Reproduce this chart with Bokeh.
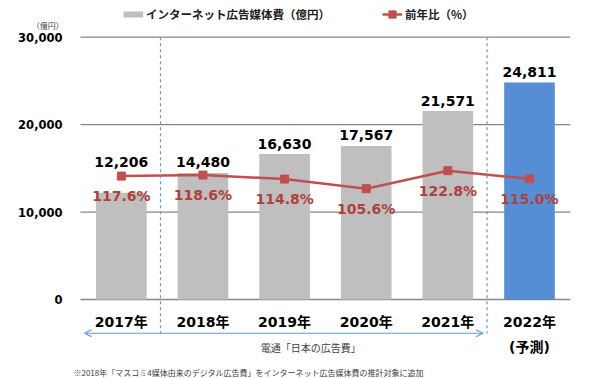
from bokeh.plotting import figure
from bokeh.models import (Range1d, Label, Arrow, OpenHead, Legend, LegendItem, ColumnDataSource)
from bokeh.core.properties import value
from bokeh.embed import file_html
from bokeh.resources import INLINE

# ---- data ----
years = ["2017年", "2018年", "2019年", "2020年", "2021年", "2022年"]
ad_spend = [12206, 14480, 16630, 17567, 21571, 24811]          # 億円
yoy_pct = [117.6, 118.6, 114.8, 105.6, 122.8, 115.0]           # %
y_ticks = [0, 10000, 20000, 30000]
bar_name = "インターネット広告媒体費（億円）"
line_name = "前年比（%）"
unit_text = "（億円）"
forecast_text = "(予測)"
source_text = "電通「日本の広告費」"
note_text = "※2018年「マスコミ4媒体由来のデジタル広告費」をインターネット広告媒体費の推計対象に追加"

# ---- styles ----
GRAY = "#BFBFBF"
BLUE = "#558ED5"
RED = "#C0504D"
PCT_TEXT = "#B0403C"
GUIDE = "#5B9BD5"
GRID = "#878787"
NUM_FONT = "DejaVu Sans, Noto Sans CJK JP"
JP_FONT = "Noto Sans CJK JP"
bar_colors = [GRAY] * 5 + [BLUE]
bar_label_offsets = [-31, -11, -10, -11, -10, -11]

W, H = 600, 378
xpos = [i + 0.5 for i in range(len(years))]

source = ColumnDataSource(dict(
    x=xpos, year=years, spend=ad_spend, pct=yoy_pct, color=bar_colors,
    spend_text=[f"{v:,}" for v in ad_spend],
    pct_text=[f"{v:.1f}%" for v in yoy_pct],
    off=bar_label_offsets,
))
tick_src = ColumnDataSource(dict(
    y=y_ticks, x0=[0] * len(y_ticks), x1=[len(years)] * len(y_ticks),
    text=[f"{t:,}" for t in y_ticks],
))

# frame covers the whole canvas; the value axis 0..30000 spans pixel rows 37..299
p = figure(width=W, height=H,
           x_range=Range1d(-0.98, 6.37), y_range=Range1d(-9038, 34198),
           x_axis_location=None, y_axis_location=None,
           output_backend="svg", toolbar_location=None,
           min_border=0)
p.extra_y_ranges = {"pct": Range1d(-75.3, 285.0)}
p.outline_line_color = None
p.background_fill_color = "white"
p.border_fill_color = "white"
p.grid.visible = False

# grid lines and value tick labels
p.segment(x0="x0", y0="y", x1="x1", y1="y", line_color=GRID, line_width=1.3, source=tick_src)
p.text(x="x0", y="y", text="text", x_offset=-18, source=tick_src,
       text_align="right", text_baseline="middle", text_font=value("DejaVu Sans"),
       text_font_style="bold", text_font_size="11.5px", text_color="black")

# bars, line, markers
p.vbar(x="x", top="spend", width=0.62, fill_color="color", line_color=None, source=source)
line_r = p.line(x="x", y="pct", y_range_name="pct", line_color=RED, line_width=2.5, source=source)
pts_r = p.scatter(x="x", y="pct", y_range_name="pct", marker="square", size=8,
                  fill_color=RED, line_color=RED, source=source)

# value labels
p.text(x="x", y="spend", text="spend_text", y_offset="off", source=source,
       text_align="center", text_baseline="middle", text_font=value("DejaVu Sans"),
       text_font_style="bold", text_font_size="14px", text_color="black")
p.text(x="x", y="pct", y_range_name="pct", text="pct_text", y_offset=20, source=source,
       text_align="center", text_baseline="middle", text_font=value("DejaVu Sans"),
       text_font_style="bold", text_font_size="14px", text_color=PCT_TEXT)

# category labels
p.text(x="x", y=0, text="year", y_offset=23, source=source,
       text_align="center", text_baseline="middle", text_font=value(NUM_FONT),
       text_font_style="bold", text_font_size="14px", text_color="black")

# guides
for gx in (0.98, 4.98):
    p.add_layout(Arrow(x_start=gx, y_start=30000, x_end=gx, y_end=-3900, end=None,
                       line_color=GUIDE, line_width=1.2, line_dash="3 3"))
p.add_layout(Arrow(x_start=0.05, y_start=-3860, x_end=4.93, y_end=-3860,
                   start=OpenHead(size=7, line_color=GUIDE, line_width=1.2),
                   end=OpenHead(size=7, line_color=GUIDE, line_width=1.2),
                   line_color=GUIDE, line_width=1.2))

p.add_layout(Label(x=5.5, y=-5460, text=forecast_text, text_align="center", text_baseline="middle",
                   text_font=NUM_FONT, text_font_style="bold", text_font_size="14px", text_color="black"))
p.add_layout(Label(x=2.82, y=-5460, text=source_text, text_align="center", text_baseline="middle",
                   text_font=JP_FONT, text_font_size="10px", text_color="#404040"))
p.add_layout(Label(x=-0.086, y=-8320, text=note_text, text_align="left", text_baseline="middle",
                   text_font=JP_FONT, text_font_size="8px", text_color="#404040"))
p.add_layout(Label(x=-0.40, y=31300, text=unit_text, text_align="center", text_baseline="middle",
                   text_font=JP_FONT, text_font_size="8px", text_color="#404040"))

# legend (bar swatch drawn as a thick gray line, like the reference's flat swatch)
swatch_src = ColumnDataSource(dict(x=[-10.0, -9.0], y=[-90000.0, -90000.0]))
swatch = p.line(x="x", y="y", line_color=GRAY, line_width=6, source=swatch_src)
legend = Legend(items=[LegendItem(label=bar_name, renderers=[swatch]),
                       LegendItem(label=line_name, renderers=[line_r, pts_r])],
                orientation="horizontal", location=(123, 355),
                glyph_width=20, glyph_height=18, label_height=18, label_standoff=3,
                spacing=52, padding=0, margin=0, border_line_color=None,
                background_fill_alpha=0, label_text_font=JP_FONT,
                label_text_font_style="bold", label_text_font_size="11.5px",
                label_text_color="#202020")
p.add_layout(legend)

open("out.html", "w").write(file_html(p, INLINE))
